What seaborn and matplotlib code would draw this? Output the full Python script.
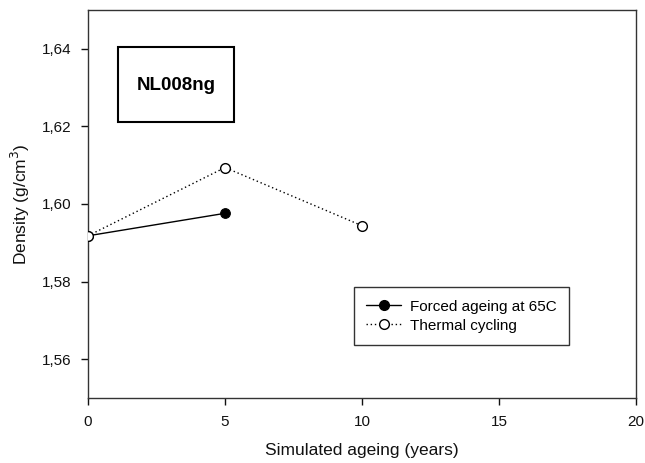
import matplotlib
matplotlib.use("Agg")
import matplotlib.pyplot as plt
import seaborn as sns
import pandas as pd
from matplotlib.lines import Line2D
from matplotlib.patches import Rectangle

forced_x = [0, 5]
forced_y = [1.5918, 1.5976]
thermal_x = [0, 5, 10]
thermal_y = [1.5918, 1.6094, 1.5944]
xticks = [0, 5, 10, 15, 20]
yticks = [1.56, 1.58, 1.60, 1.62, 1.64]
ytick_labels = ["1,56", "1,58", "1,60", "1,62", "1,64"]

sns.set_style("white")
plt.rcParams['font.family'] = ['Liberation Sans', 'DejaVu Sans']

fig = plt.figure(figsize=(6.45, 4.63), dpi=100)
ax = fig.add_axes([0.1364, 0.1404, 0.8497, 0.8380])

df_f = pd.DataFrame({"x": forced_x, "y": forced_y})
df_t = pd.DataFrame({"x": thermal_x, "y": thermal_y})

sns.lineplot(data=df_f, x="x", y="y", ax=ax, color="black", linewidth=1.0,
             marker="o", markersize=7, markerfacecolor="black",
             markeredgecolor="black", zorder=3)
sns.lineplot(data=df_t, x="x", y="y", ax=ax, color="black", linewidth=1.0,
             linestyle=(0, (1, 2)), marker="o", markersize=7,
             markerfacecolor="white", markeredgecolor="black",
             markeredgewidth=1.0, zorder=4)

ax.set_xlim(0, 20)
ax.set_ylim(1.55, 1.65)
ax.set_xticks(xticks)
ax.set_xticklabels([str(v) for v in xticks])
ax.set_yticks(yticks)
ax.set_yticklabels(ytick_labels)
ax.tick_params(axis="both", direction="out", length=5, width=1,
               labelsize=11, colors="#111111", pad=7, bottom=True, left=True)
for s in ax.spines.values():
    s.set_color("#333333")
    s.set_linewidth(1.0)

ax.set_xlabel("Simulated ageing (years)", fontsize=12.5, labelpad=10, color="#111111")
ax.set_ylabel("Density (g/cm$^3$)", fontsize=12.5, labelpad=7, color="#111111")

# title box
ax.add_patch(Rectangle((1.09, 1.6211), 5.33 - 1.09, 1.6405 - 1.6211,
                       facecolor="white", edgecolor="black", linewidth=1.5,
                       zorder=5))
ax.text(3.21, 1.6306, "NL008ng", fontsize=13.5, fontweight="bold",
        ha="center", va="center", zorder=6, color="black")

handles = [
    Line2D([0], [0], color="black", linewidth=1.0, marker="o", markersize=7,
           markerfacecolor="black", markeredgecolor="black"),
    Line2D([0], [0], color="black", linewidth=1.0, linestyle=(0, (1, 2)),
           marker="o", markersize=7, markerfacecolor="white",
           markeredgecolor="black"),
]
leg = ax.legend(handles, ["Forced ageing at 65C", "Thermal cycling"],
                loc="upper left", bbox_to_anchor=(0.485, 0.285),
                fontsize=11, frameon=True, fancybox=False, handlelength=2.3,
                borderpad=0.8, labelspacing=0.32, handletextpad=0.6,
                borderaxespad=0)
leg.get_frame().set_edgecolor("black")
leg.get_frame().set_linewidth(1.0)
for t in leg.get_texts():
    t.set_color("black")

fig.savefig("out.png", dpi=100)
